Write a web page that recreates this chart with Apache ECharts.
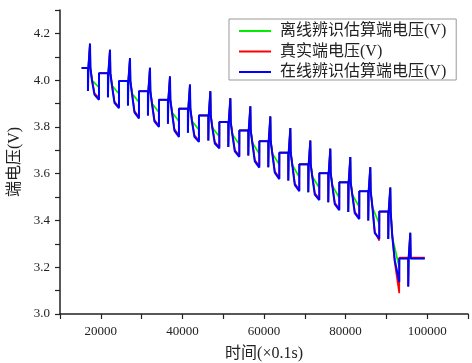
<!DOCTYPE html>
<html>
<head>
<meta charset="utf-8">
<script src="https://cdn.jsdelivr.net/npm/echarts@6/dist/echarts.min.js"></script>
<style>
  html, body { margin: 0; padding: 0; background: #fff; }
  #chart { width: 472px; height: 363px; }
</style>
</head>
<body>
<div id="chart"></div>
<script>
const seriesNames = ["离线辨识估算端电压(V)", "真实端电压(V)", "在线辨识估算端电压(V)"]
const seriesColors = ["#00ee00", "#ff0000", "#0000ff"]

// time in 0.1 s units
const startTime = 15300
const endTime = 99400
const pulseTimes = [17400, 22300, 27200, 32100, 37000, 41900, 46900, 51800, 56700,
  61600, 66500, 71400, 76300, 81200, 86100, 91000, 95900]
// offsets from each pulse: dip start/end, spike start/end, discharge start/mid/end
const dipOffsets = [-550, -450]
const spikeOffsets = [-50, 50]
const dischargeOffsets = [450, 1050, 2150]

// rest voltage before each pulse (last = final rest)
const restVolts = [4.052, 4.030, 3.996, 3.953, 3.916, 3.878, 3.849, 3.821, 3.785,
  3.739, 3.690, 3.640, 3.602, 3.563, 3.525, 3.438, 3.237]
const spikeVolts = [4.156, 4.130, 4.094, 4.053, 4.016, 3.981, 3.953, 3.923, 3.888,
  3.845, 3.795, 3.742, 3.707, 3.671, 3.628, 3.541, 3.347]
const dipVolts = [3.954, 3.927, 3.892, 3.849, 3.814, 3.775, 3.742, 3.714, 3.678,
  3.628, 3.571, 3.521, 3.478, 3.436, 3.400, 3.321, 3.118]

// discharge segments (16 cycles)
const greenStart = [3.999, 3.977, 3.943, 3.900, 3.863, 3.825, 3.796, 3.768, 3.732,
  3.686, 3.637, 3.587, 3.549, 3.510, 3.457, 3.328]
const greenEnd = [3.969, 3.942, 3.906, 3.863, 3.824, 3.788, 3.759, 3.726, 3.685,
  3.639, 3.585, 3.540, 3.497, 3.458, 3.386, 3.200]
const redStart = [4.002, 3.980, 3.946, 3.903, 3.866, 3.828, 3.799, 3.771, 3.735,
  3.689, 3.640, 3.590, 3.552, 3.513, 3.465, 3.338]
const redMid = [3.944, 3.909, 3.868, 3.830, 3.790, 3.764, 3.735, 3.701, 3.659,
  3.610, 3.558, 3.517, 3.476, 3.437, 3.352, 3.220]
const redEnd = [3.924, 3.885, 3.842, 3.806, 3.764, 3.742, 3.714, 3.678, 3.633,
  3.583, 3.531, 3.493, 3.450, 3.412, 3.314, 3.089]
const blueStart = [3.997, 3.975, 3.941, 3.898, 3.861, 3.823, 3.794, 3.766, 3.730,
  3.684, 3.635, 3.585, 3.547, 3.508, 3.460, 3.330]
const blueMid = [3.938, 3.903, 3.862, 3.824, 3.784, 3.758, 3.729, 3.695, 3.653,
  3.604, 3.552, 3.511, 3.470, 3.431, 3.346, 3.230]
const blueEnd = [3.916, 3.880, 3.836, 3.800, 3.757, 3.736, 3.708, 3.672, 3.626,
  3.577, 3.525, 3.487, 3.444, 3.406, 3.322, 3.137]
const finalRest = [3.238, 3.241, 3.237]

function buildCurve(starts, mids, ends, lastRest) {
  const last = pulseTimes.length - 1
  const rest = (k) => (k === last ? lastRest : restVolts[k])
  const pts = [[startTime, restVolts[0]]]
  pulseTimes.forEach((t, k) => {
    const r = rest(k)
    pts.push([t + dipOffsets[0], r], [t + dipOffsets[0] + 5, dipVolts[k]],
      [t + dipOffsets[1] - 5, dipVolts[k]], [t + dipOffsets[1], r])
    pts.push([t + spikeOffsets[0], r], [t + spikeOffsets[0] + 5, spikeVolts[k]],
      [t + spikeOffsets[1] - 5, spikeVolts[k]], [t + spikeOffsets[1], r])
    if (k < starts.length) {
      pts.push([t + dischargeOffsets[0] - 10, r], [t + dischargeOffsets[0], starts[k]])
      if (mids) pts.push([t + dischargeOffsets[1], mids[k]])
      pts.push([t + dischargeOffsets[2], ends[k]], [t + dischargeOffsets[2] + 10, rest(k + 1)])
    }
  })
  pts.push([endTime, lastRest])
  return pts
}

const curves = [
  buildCurve(greenStart, null, greenEnd, finalRest[0]),
  buildCurve(redStart, redMid, redEnd, finalRest[1]),
  buildCurve(blueStart, blueMid, blueEnd, finalRest[2]),
]
const lineWidths = [1.7, 1.7, 2]

const font = "'Liberation Serif', 'Noto Sans CJK SC', serif"
const chart = echarts.init(document.getElementById("chart"))
chart.setOption({
  animation: false,
  color: seriesColors,
  textStyle: { fontFamily: font, color: "#222" },
  grid: { left: 60, right: 4, top: 10, bottom: 49, outerBoundsMode: "none", containLabel: false },
  legend: {
    left: 229,
    top: 19,
    orient: "vertical",
    icon: "rect",
    itemWidth: 32,
    itemHeight: 2,
    itemGap: 4.5,
    padding: [4, 10, 0, 10],
    borderColor: "#999",
    borderWidth: 1,
    textStyle: { fontFamily: font, fontSize: 16, lineHeight: 14, color: "#222", padding: [0, 0, 0, 4] },
    data: seriesNames,
  },
  xAxis: {
    type: "value",
    min: 10000,
    max: 110000,
    interval: 10000,
    name: "时间(×0.1s)",
    nameLocation: "middle",
    nameGap: 32,
    nameTextStyle: { fontFamily: font, fontSize: 16, color: "#222" },
    axisLine: { show: true, lineStyle: { color: "#222", width: 1.5 } },
    axisTick: { show: true, length: 5, lineStyle: { color: "#222", width: 1.2 } },
    axisLabel: {
      margin: 11,
      fontSize: 13,
      color: "#222",
      formatter: (v) => (Math.round(v / 10000) % 2 === 0 ? String(v) : ""),
    },
    splitLine: { show: false },
  },
  yAxis: {
    type: "value",
    min: 3.0,
    max: 4.3,
    interval: 0.1,
    name: "端电压(V)",
    nameLocation: "middle",
    nameGap: 37,
    nameTextStyle: { fontFamily: font, fontSize: 16, color: "#222" },
    axisLine: { show: true, lineStyle: { color: "#222", width: 1.5 } },
    axisTick: { show: true, length: 5, lineStyle: { color: "#222", width: 1.2 } },
    axisLabel: {
      margin: 10,
      fontSize: 13,
      color: "#222",
      formatter: (v) => (Math.round(v * 10) % 2 === 0 ? v.toFixed(1) : ""),
    },
    splitLine: { show: false },
  },
  series: seriesNames.map((name, i) => ({
    name,
    type: "line",
    symbol: "none",
    data: curves[i],
    lineStyle: { width: lineWidths[i] },
  })),
})
</script>
</body>
</html>
